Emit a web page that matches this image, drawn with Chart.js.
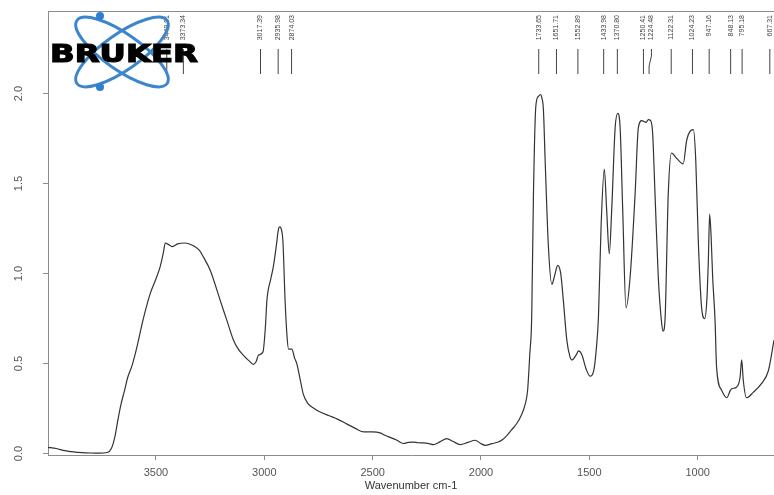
<!DOCTYPE html>
<html>
<head>
<meta charset="utf-8">
<script src="https://cdn.jsdelivr.net/npm/chart.js@4.4.1/dist/chart.umd.min.js"></script>
<style>
  html, body { margin: 0; padding: 0; background: #fff; }
  #spectrum { display: block; }
</style>
</head>
<body>
<canvas id="spectrum" width="774" height="495"></canvas>
<script>
// ==================== DATA ====================
var wavenumbers = [
  4000, 3960, 3920, 3880, 3840, 3800, 3760, 3725, 3705, 3690,
  3675, 3660, 3645, 3631, 3610, 3588, 3560, 3526, 3500, 3480,
  3465, 3457, 3440, 3426, 3400, 3365, 3327, 3300, 3280, 3250,
  3203, 3170, 3142, 3120, 3096, 3070, 3050, 3038, 3027, 3006,
  2995, 2988, 2970, 2958, 2945, 2934, 2928, 2920, 2914, 2904,
  2895, 2888, 2873, 2860, 2850, 2834, 2820, 2800, 2770, 2740,
  2700, 2660, 2620, 2580, 2540, 2500, 2466, 2440, 2419, 2390,
  2358, 2335, 2312, 2290, 2266, 2240, 2220, 2190, 2158, 2130,
  2096, 2060, 2027, 2000, 1981, 1950, 1920, 1900, 1881, 1860,
  1835, 1815, 1797, 1785, 1775, 1766, 1758, 1747, 1735, 1725,
  1720, 1712, 1704, 1689, 1673, 1660, 1646, 1632, 1620, 1604,
  1590, 1581, 1560, 1550, 1535, 1515, 1497, 1480, 1468, 1458,
  1446, 1431, 1420, 1408, 1397, 1381, 1369, 1358, 1346, 1331,
  1312, 1289, 1274, 1258, 1238, 1228, 1217, 1208, 1197, 1182,
  1166, 1160, 1151, 1136, 1121, 1097, 1067, 1051, 1036, 1020,
  1009, 997, 982, 968, 958, 951, 945, 938, 931, 920,
  913, 889, 866, 850, 843, 820, 805, 797, 790, 775,
  744, 705, 674, 648
];
var absorbance = [
  0.035, 0.028, 0.016, 0.009, 0.005, 0.003, 0.002, 0.006, 0.03, 0.09,
  0.19, 0.28, 0.35, 0.42, 0.49, 0.59, 0.74, 0.89, 0.97, 1.04,
  1.12, 1.17, 1.16, 1.15, 1.165, 1.17, 1.155, 1.13, 1.09, 1.02,
  0.85, 0.73, 0.63, 0.58, 0.546, 0.515, 0.496, 0.51, 0.546, 0.565,
  0.70, 0.85, 0.97, 1.04, 1.15, 1.25, 1.26, 1.24, 1.18, 0.85,
  0.65, 0.58, 0.58, 0.53, 0.50, 0.41, 0.33, 0.28, 0.25, 0.23,
  0.21, 0.19, 0.165, 0.14, 0.12, 0.12, 0.115, 0.10, 0.09, 0.075,
  0.056, 0.062, 0.064, 0.06, 0.059, 0.055, 0.05, 0.065, 0.083, 0.068,
  0.05, 0.062, 0.074, 0.055, 0.046, 0.055, 0.064, 0.078, 0.10, 0.13,
  0.167, 0.21, 0.27, 0.35, 0.55, 0.76, 1.44, 1.93, 1.985, 1.995,
  1.98, 1.91, 1.63, 1.15, 0.94, 0.99, 1.046, 1.0, 0.85, 0.63,
  0.54, 0.52, 0.55, 0.57, 0.55, 0.47, 0.43, 0.46, 0.58, 0.76,
  1.26, 1.58, 1.35, 1.11, 1.35, 1.81, 1.89, 1.81, 1.35, 0.81,
  0.98, 1.44, 1.81, 1.85, 1.84, 1.855, 1.85, 1.78, 1.44, 0.98,
  0.72, 0.68, 0.74, 1.44, 1.67, 1.64, 1.61, 1.74, 1.79, 1.80,
  1.63, 1.17, 0.81, 0.75, 0.85, 1.07, 1.33, 1.2, 0.98, 0.74,
  0.48, 0.35, 0.31, 0.35, 0.36, 0.37, 0.42, 0.52, 0.41, 0.31,
  0.34, 0.39, 0.46, 0.63
];

var xTicks = [3500, 3000, 2500, 2000, 1500, 1000];
var yTicks = [0, 0.5, 1, 1.5, 2];

// peak picking marks at the top
var peakPositions = [3449.91, 3373.34, 3017.39, 2935.98, 2874.03, 1733.65, 1651.71, 1552.89,
  1433.98, 1370.80, 1250.41, 1224.48, 1122.31, 1024.23, 947.16, 848.13, 795.18, 667.31];
var peakLabels = ['3449.91', '3373.34', '3017.39', '2935.98', '2874.03', '1733.65', '1651.71', '1552.89',
  '1433.98', '1370.80', '1250.41', '1224.48', '1122.31', '1024.23', '947.16', '848.13', '795.18', '667.31'];

var axisGray = '#8c8c8c';
var labelGray = '#555555';

// ==================== PLUGINS ====================
// top edge of the frame
var framePlugin = {
  id: 'frame',
  afterDraw: function (chart) {
    var ctx = chart.ctx, a = chart.chartArea;
    ctx.save();
    ctx.strokeStyle = axisGray;
    ctx.lineWidth = 1;
    ctx.beginPath();
    ctx.moveTo(a.left, a.top + 0.5);
    ctx.lineTo(a.right, a.top + 0.5);
    ctx.stroke();
    ctx.restore();
  }
};

// peak labels with their marker lines
var peaksPlugin = {
  id: 'peaks',
  afterDatasetsDraw: function (chart) {
    var ctx = chart.ctx, xs = chart.scales.x;
    var items = peakPositions.map(function (p, i) {
      return { px: xs.getPixelForValue(p), text: peakLabels[i] };
    }).sort(function (a, b) { return a.px - b.px; });

    var prev = -100;
    items.forEach(function (it) {
      it.lx = Math.max(it.px, prev + 8);
      prev = it.lx;
    });

    ctx.save();
    ctx.font = '7px "Liberation Sans", Arial, sans-serif';
    ctx.fillStyle = '#444';
    ctx.strokeStyle = '#444';
    ctx.lineWidth = 1;
    items.forEach(function (it) {
      ctx.save();
      ctx.translate(it.lx, 15);
      ctx.rotate(-Math.PI / 2);
      ctx.textAlign = 'right';
      ctx.textBaseline = 'middle';
      ctx.fillText(it.text, 0, 0);
      ctx.restore();

      ctx.beginPath();
      ctx.moveTo(it.lx, 49);
      if (Math.abs(it.lx - it.px) > 0.5) {
        ctx.lineTo(it.lx, 56);
        ctx.lineTo(it.px, 66);
      }
      ctx.lineTo(it.px, 74);
      ctx.stroke();
    });
    ctx.restore();
  }
};

// BRUKER logo in the upper left corner
var logoPlugin = {
  id: 'logo',
  afterDraw: function (chart) {
    var ctx = chart.ctx;
    var cx = 122, cy = 52;
    ctx.save();
    ctx.strokeStyle = '#3d86cc';
    ctx.lineWidth = 3;
    [0.61, -0.61].forEach(function (rot) {
      ctx.beginPath();
      ctx.ellipse(cx, cy, 55, 18, rot, 0, Math.PI * 2);
      ctx.stroke();
    });
    ctx.fillStyle = '#2f7fd0';
    ctx.beginPath();
    ctx.arc(100, 16, 4, 0, Math.PI * 2);
    ctx.fill();
    ctx.beginPath();
    ctx.arc(100, 87, 4, 0, Math.PI * 2);
    ctx.fill();

    ctx.font = 'bold 24px "DejaVu Sans", sans-serif';
    var w = ctx.measureText('BRUKER').width;
    ctx.translate(50, 62);
    ctx.scale(148 / w, 1);
    ctx.fillStyle = '#000';
    ctx.strokeStyle = '#000';
    ctx.lineWidth = 1.2;
    ctx.textAlign = 'left';
    ctx.textBaseline = 'alphabetic';
    ctx.fillText('BRUKER', 0, 0);
    ctx.strokeText('BRUKER', 0, 0);
    ctx.restore();
  }
};

// ==================== CHART ====================
function initChart() {
  var points = wavenumbers.map(function (w, i) {
    return { x: w, y: absorbance[i] };
  });

  var ctx = document.getElementById('spectrum').getContext('2d');
  new Chart(ctx, {
    type: 'line',
    data: {
      datasets: [{
        data: points,
        borderColor: '#333333',
        borderWidth: 1.2,
        pointRadius: 0,
        fill: false,
        cubicInterpolationMode: 'monotone'
      }]
    },
    options: {
      responsive: false,
      animation: false,
      devicePixelRatio: 1,
      layout: { padding: { top: 11, left: 0, right: 0, bottom: 0 } },
      plugins: {
        legend: { display: false },
        tooltip: { enabled: false }
      },
      scales: {
        x: {
          type: 'linear',
          reverse: true,
          min: 648,
          max: 3998,
          afterBuildTicks: function (scale) {
            scale.ticks = xTicks.map(function (v) { return { value: v }; });
          },
          afterFit: function (scale) {
            scale.height = 40;
            scale.paddingLeft = 0;
            scale.paddingRight = 0;
          },
          grid: { drawOnChartArea: false, drawTicks: true, tickLength: 5, color: axisGray },
          border: { display: true, color: axisGray, width: 1 },
          ticks: {
            autoSkip: false,
            maxRotation: 0,
            padding: 6,
            color: labelGray,
            font: { family: '"Liberation Sans", Arial, sans-serif', size: 11 },
            callback: function (v) { return String(v); }
          },
          title: {
            display: true,
            text: 'Wavenumber cm-1',
            color: '#333',
            font: { family: '"Liberation Sans", Arial, sans-serif', size: 11 },
            padding: { top: 0, bottom: 2 }
          }
        },
        y: {
          min: -0.008,
          max: 2.459,
          afterBuildTicks: function (scale) {
            scale.ticks = yTicks.map(function (v) { return { value: v }; });
          },
          afterFit: function (scale) {
            scale.width = 48;
            scale.paddingTop = 0;
            scale.paddingBottom = 0;
          },
          grid: { drawOnChartArea: false, drawTicks: true, tickLength: 5, color: axisGray },
          border: { display: true, color: axisGray, width: 1 },
          ticks: {
            minRotation: 90,
            maxRotation: 90,
            crossAlign: 'center',
            padding: 16,
            color: labelGray,
            font: { family: '"Liberation Sans", Arial, sans-serif', size: 11 },
            callback: function (v) { return Number(v).toFixed(1); }
          }
        }
      }
    },
    plugins: [framePlugin, peaksPlugin, logoPlugin]
  });
}

initChart();
</script>
</body>
</html>
